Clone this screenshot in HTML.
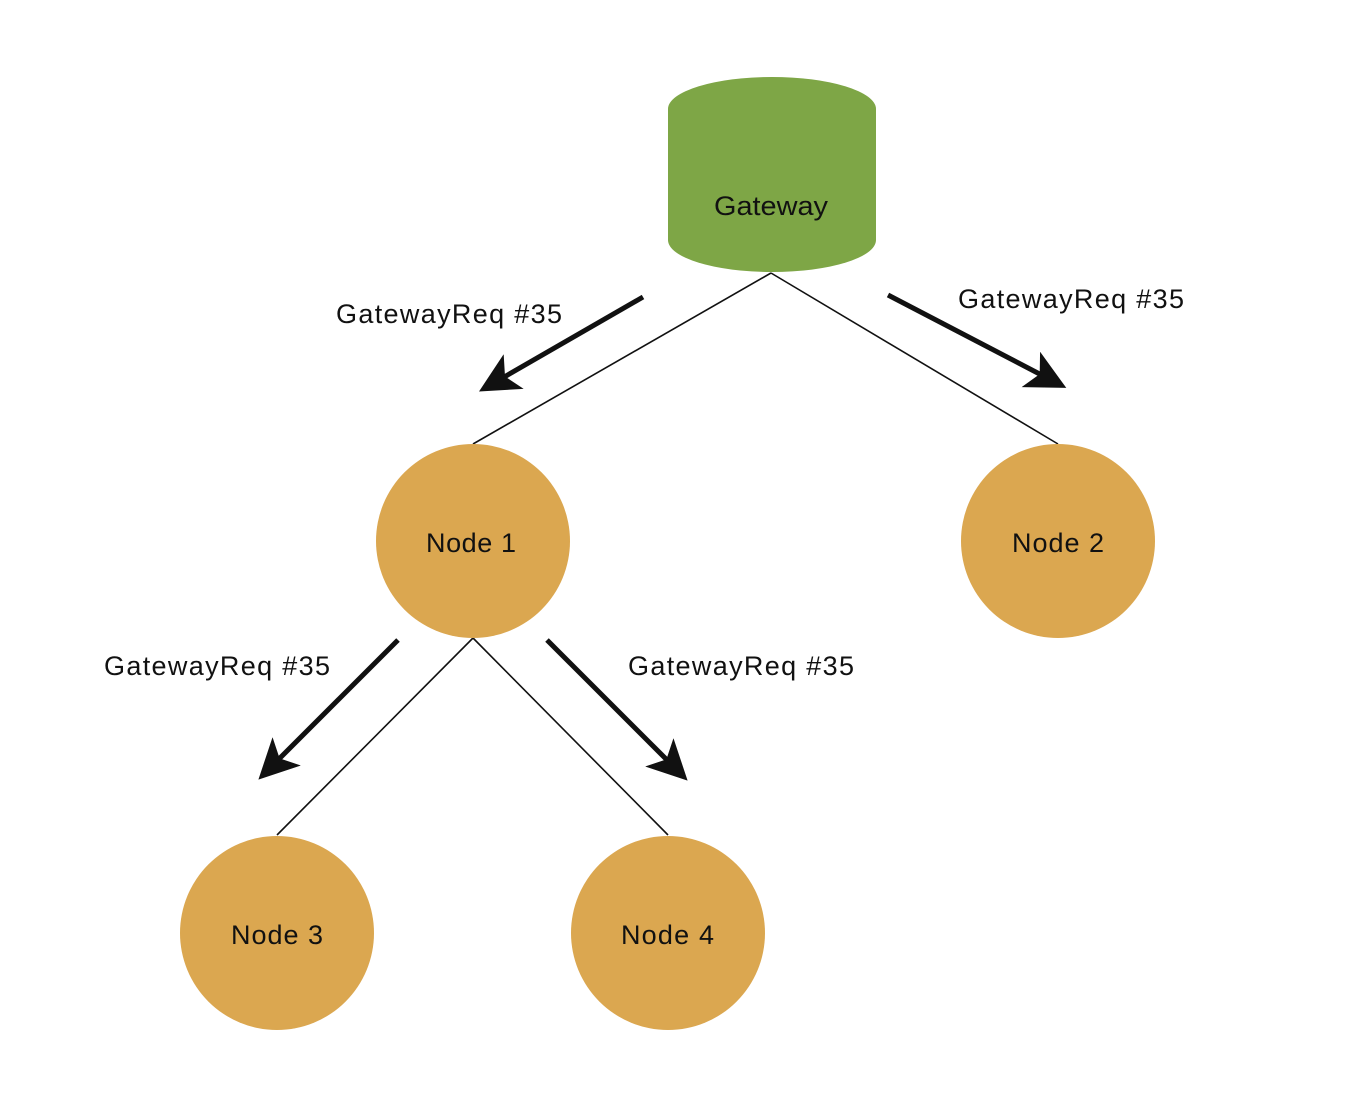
<!DOCTYPE html>
<html><head><meta charset="utf-8"><style>
html,body{margin:0;padding:0;background:#fff;}
svg{display:block;}
text{font-family:"Liberation Sans",Arial,sans-serif;fill:#111;}
</style></head><body>
<svg width="1362" height="1118" viewBox="0 0 1362 1118" xmlns="http://www.w3.org/2000/svg">
<defs>
<marker id="ah" markerWidth="8" markerHeight="8" refX="5" refY="4" orient="auto" markerUnits="strokeWidth">
<path d="M0,0 L8,4 L0,8 L2,4 Z" fill="#111"/>
</marker>
</defs>
<path d="M668,109 A104,32 0 0 1 876,109 L876,240 A104,32 0 0 1 668,240 Z" fill="#7ea646"/>
<text x="714" y="215" font-size="27" textLength="114" lengthAdjust="spacingAndGlyphs">Gateway</text>
<g stroke="#111" stroke-width="1.6" fill="none">
<line x1="771" y1="273" x2="473" y2="444"/>
<line x1="771" y1="273" x2="1058" y2="444"/>
<line x1="473" y1="638" x2="277" y2="835"/>
<line x1="473" y1="638" x2="668" y2="835"/>
</g>
<g fill="#dba750">
<circle cx="473" cy="541" r="97"/>
<circle cx="1058" cy="541" r="97"/>
<circle cx="277" cy="933" r="97"/>
<circle cx="668" cy="933" r="97"/>
</g>
<g font-size="27" lengthAdjust="spacingAndGlyphs">
<text x="426" y="552" textLength="90">Node 1</text>
<text x="1012" y="552" textLength="92">Node 2</text>
<text x="231" y="944" textLength="92">Node 3</text>
<text x="621" y="944" textLength="93">Node 4</text>
</g>
<g stroke="#111" stroke-width="5" fill="none" marker-end="url(#ah)">
<line x1="643" y1="297" x2="492" y2="384"/>
<line x1="888" y1="295" x2="1053" y2="381"/>
<line x1="398" y1="640" x2="269" y2="769"/>
<line x1="547" y1="640" x2="677" y2="770"/>
</g>
<g font-size="27" lengthAdjust="spacingAndGlyphs">
<text x="336" y="323" textLength="226">GatewayReq #35</text>
<text x="958" y="308" textLength="226">GatewayReq #35</text>
<text x="104" y="675" textLength="226">GatewayReq #35</text>
<text x="628" y="675" textLength="226">GatewayReq #35</text>
</g>
</svg>
</body></html>
